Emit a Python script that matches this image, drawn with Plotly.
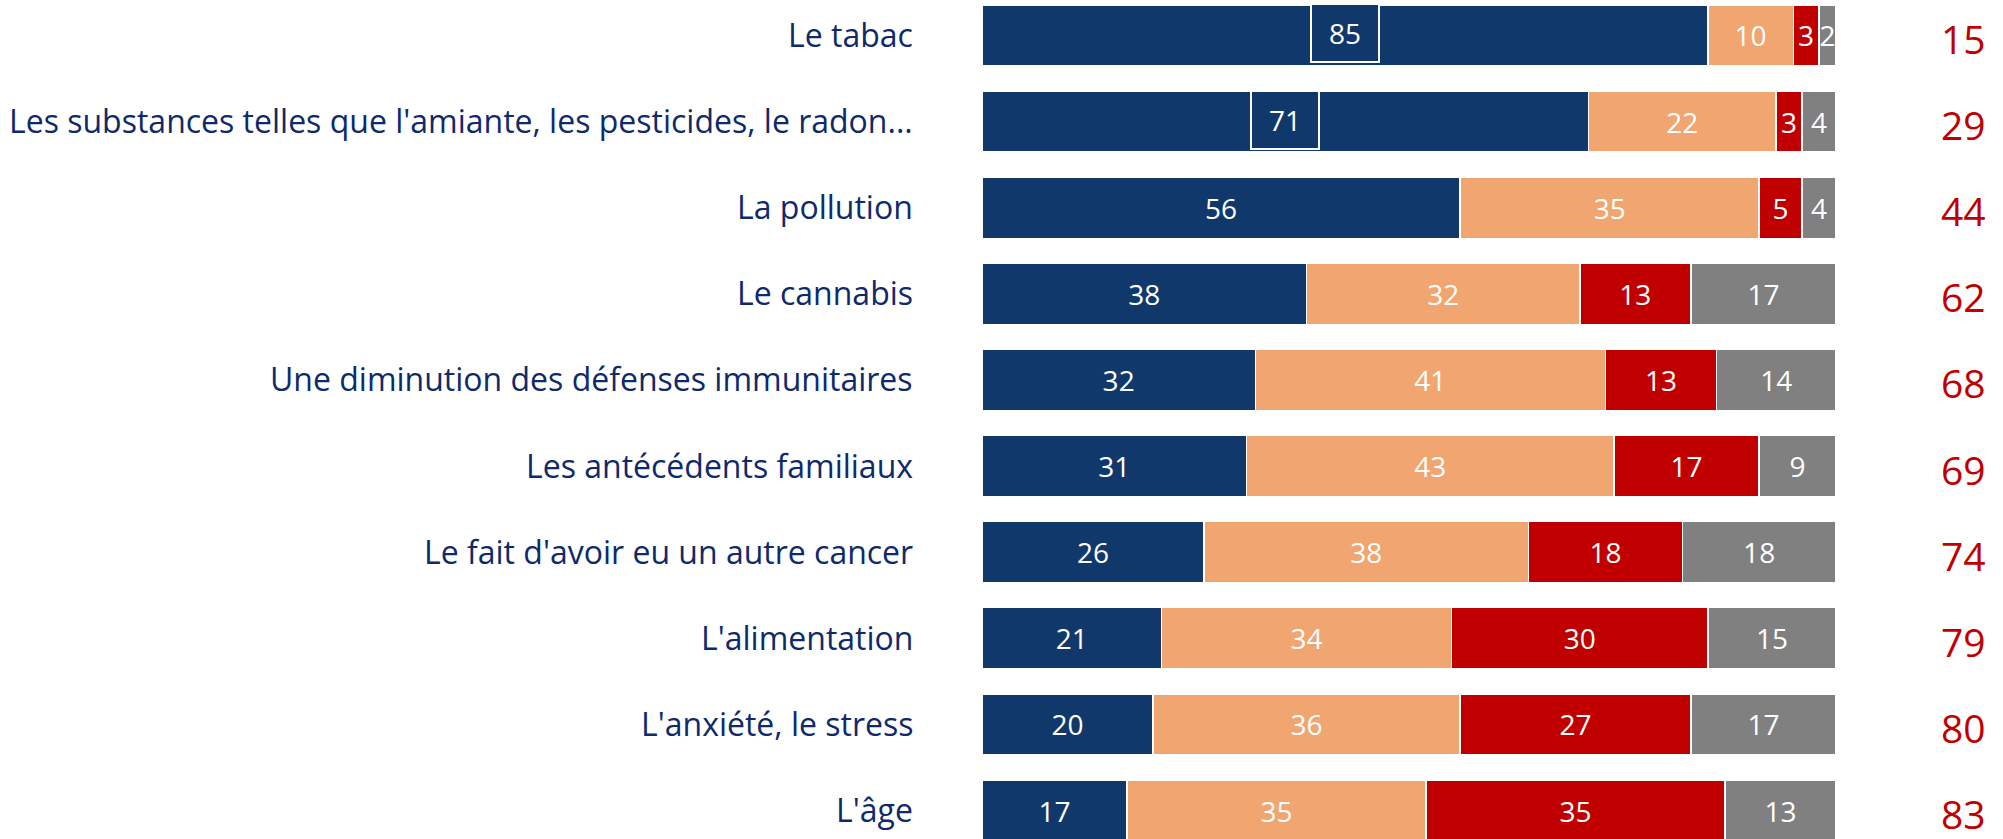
import plotly.graph_objects as go

categories = [
    "Le tabac",
    "Les substances telles que l'amiante, les pesticides, le radon...",
    "La pollution",
    "Le cannabis",
    "Une diminution des défenses immunitaires",
    "Les antécédents familiaux",
    "Le fait d'avoir eu un autre cancer",
    "L'alimentation",
    "L'anxiété, le stress",
    "L'âge",
]
s1 = [85, 71, 56, 38, 32, 31, 26, 21, 20, 17]
s2 = [10, 22, 35, 32, 41, 43, 38, 34, 36, 35]
s3 = [3, 3, 5, 13, 13, 17, 18, 30, 27, 35]
s4 = [2, 4, 4, 17, 14, 9, 18, 15, 17, 13]
totals = [15, 29, 44, 62, 68, 69, 74, 79, 80, 83]
boxed = [0, 1]  # rows whose first label sits in a framed box

colors = ["#11386B", "#F1A571", "#C00000", "#808080"]
FONT = "Open Sans"
NAVY_TXT = "#0F2A6B"

fig = go.Figure()
for i, (vals, col) in enumerate(zip([s1, s2, s3, s4], colors)):
    texts = [("" if (i == 0 and r in boxed) else str(v)) for r, v in enumerate(vals)]
    fig.add_trace(go.Bar(
        x=vals, y=categories, orientation="h",
        marker=dict(color=col, line=dict(color="white", width=1.5)),
        text=texts, textposition="inside", insidetextanchor="middle",
        textfont=dict(family=FONT, size=28, color="white"),
        width=0.71, hoverinfo="skip", showlegend=False,
        cliponaxis=False,
    ))

annotations = []
for r in boxed:
    annotations.append(dict(
        x=s1[r] / 2, y=categories[r], xref="x", yref="y",
        text=str(s1[r]), showarrow=False,
        font=dict(family=FONT, size=28, color="white"),
        bgcolor=colors[0], bordercolor="white", borderwidth=2, borderpad=0,
        width=66, height=56, yshift=2,
    ))
for r, c in enumerate(categories):
    annotations.append(dict(
        x=0, y=c, xref="paper", yref="y", text=c, showarrow=False,
        xanchor="right", xshift=-67, yshift=1,
        font=dict(family=FONT, size=32, color=NAVY_TXT),
    ))
    annotations.append(dict(
        x=1, y=c, xref="paper", yref="y", text=str(totals[r]), showarrow=False,
        xanchor="right", xshift=152, yshift=-3,
        font=dict(family=FONT, size=39, color="#C00000"),
    ))

fig.update_layout(
    barmode="stack",
    width=2003, height=839,
    margin=dict(l=982, r=167, t=0, b=0, pad=0),
    plot_bgcolor="white", paper_bgcolor="white",
    uniformtext=dict(minsize=28, mode="show"),
    xaxis=dict(range=[0, 100], visible=False, fixedrange=True),
    yaxis=dict(type="category", categoryorder="array", categoryarray=categories,
               range=[9.331, -0.412], visible=False, fixedrange=True),
    annotations=annotations,
)

fig.write_html(
    "out.html",
    config={"displayModeBar": False},
    post_script="document.body.style.margin='0';document.body.style.overflow='hidden';",
)
